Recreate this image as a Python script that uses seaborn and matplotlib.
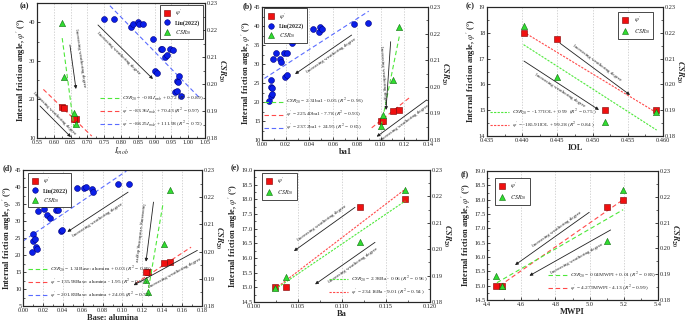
import matplotlib
matplotlib.use('Agg')
import matplotlib.pyplot as plt
from matplotlib.lines import Line2D
from matplotlib.ticker import MultipleLocator, AutoMinorLocator, FormatStrFormatter
import numpy as np
import seaborn as sns

sns.set_style('ticks')
plt.rcParams['font.family'] = ['Liberation Serif', 'DejaVu Serif']
plt.rcParams['mathtext.fontset'] = 'stix'
plt.rcParams['axes.linewidth'] = 0.8

RED, RED_E = '#f01010', '#800000'
BLUE, BLUE_E = '#0a1ee8', '#000080'
GREEN, GREEN_E = '#30dd30', '#107010'
L_RED, L_GREEN, L_BLUE = '#ff4a4a', '#4ee83a', '#5a6cff'

# four samples of this study
phi = [18.0, 17.75, 15.0, 15.0]
csr = [0.2225, 0.2027, 0.1853, 0.1894]
i_mob = [0.623, 0.631, 0.665, 0.659]
ba1 = [0.1155, 0.1105, 0.1004, 0.1018]
iol = [0.4402, 0.4450, 0.4518, 0.4590]
alumina = [0.1483, 0.1420, 0.1257, 0.1237]
ba = [0.1172, 0.1121, 0.1024, 0.1036]
mwpi = [5.196, 5.099, 4.487, 4.454]

# Liu (2022)
liu_imob = [0.748, 0.778, 0.830, 0.835, 0.850, 0.855, 0.864, 0.894, 0.901, 0.906, 0.918,
            0.922, 0.931, 0.936, 0.946, 0.956, 0.961, 0.966, 0.971, 0.966, 0.974, 0.978]
liu_phi_a = [40.9, 40.9, 38.7, 39.5, 40.0, 39.5, 39.5, 35.7, 27.3, 26.9, 33.1,
             33.2, 30.9, 31.5, 33.2, 32.8, 21.9, 24.7, 24.5, 22.3, 26.1, 20.9]
liu_ba1 = [0.0059, 0.0076, 0.0082, 0.0079, 0.0084, 0.0073, 0.0090, 0.0121, 0.0155, 0.0160, 0.0188,
           0.0194, 0.0214, 0.0211, 0.0253, 0.0335, 0.0433, 0.0480, 0.0490, 0.0510, 0.0780, 0.0897]
liu_phi_b = [20.3, 21.7, 22.0, 24.0, 23.7, 25.8, 31.2, 32.8, 31.4, 30.5, 33.0,
             26.7, 32.8, 27.0, 35.4, 39.1, 39.1, 38.3, 39.8, 39.1, 40.5, 40.9]
liu_alumina = [0.0090, 0.0100, 0.0103, 0.0123, 0.0127, 0.0143, 0.0150, 0.0207, 0.0240, 0.0270, 0.0330,
               0.0347, 0.0380, 0.0390, 0.0413, 0.0547, 0.0613, 0.0633, 0.0697, 0.0700, 0.0957, 0.1067]
liu_phi_d = [21.0, 26.1, 24.2, 24.6, 22.4, 21.9, 32.8, 33.4, 31.7, 31.0, 33.2,
             33.2, 27.0, 27.5, 35.6, 39.6, 39.6, 40.1, 39.4, 38.6, 40.8, 41.0]

# fitted lines, end points
fit_a_x, fit_a_csr = [0.625, 0.660], [0.2170, 0.1840]
fit_a_px, fit_a_phi = [0.569, 0.713], [22.6, 10.5]
fit_a_lx, fit_a_liu = [0.767, 1.035], [44.3, 20.3]
fit_b_x, fit_b_csr = [0.1005, 0.1160], [0.1853, 0.2194]
fit_b_px, fit_b_phi = [0.0925, 0.1250], [13.2, 21.3]
fit_b_lx, fit_b_liu = [0.002, 0.090], [26.2, 43.9]
fit_c_x, fit_c_csr = [0.4402, 0.4591], [0.2154, 0.1823]
fit_c_px, fit_c_phi = [0.4402, 0.4591], [18.03, 14.90]
fit_d_x, fit_d_csr = [0.1263, 0.1407], [0.1866, 0.2174]
fit_d_px, fit_d_phi = [0.113, 0.169], [11.6, 22.3]
fit_d_lx, fit_d_liu = [0.0, 0.104], [24.1, 44.7]
fit_e_x, fit_e_csr = [0.1024, 0.1172], [0.1848, 0.2183]
fit_e_px, fit_e_phi = [0.1024, 0.1172], [14.95, 18.35]
fit_f_x, fit_f_csr = [4.458, 5.196], [0.1867, 0.2150]
fit_f_px, fit_f_phi = [4.475, 5.196], [15.0, 18.0]

eq_a = [r"$CSR_{20}$ = -0.81$I_{mob}$ + 0.72 ($R^2$ = 0.89)",
        r"$\varphi'$ = -83.36$I_{mob}$ + 70.43 ($R^2$ = 0.97)",
        r"$\varphi'$ = -88.25$I_{mob}$ + 111.98 ($R^2$ = 0.72)"]
eq_b = [r"$CSR_{20}$ = 2.31ba1 - 0.05 ($R^2$ = 0.93)",
        r"$\varphi'$ = 225.40ba1 - 7.78 ($R^2$ = 0.93)",
        r"$\varphi'$ = 237.2ba1 + 24.95 ($R^2$ = 0.65)"]
eq_c = [r"$CSR_{20}$ = -1.77IOL + 0.99  ($R^2$ = 0.75 )",
        r"$\varphi'$ = -185.91IOL + 99.28 ($R^2$ = 0.84 )"]
eq_d = [r"$CSR_{20}$ = 1.31Base: alumina + 0.03 ($R^2$ = 0.89)",
        r"$\varphi'$ = 135.98Base: alumina - 1.95 ($R^2$ = 0.97)",
        r"$\varphi'$ = 201.83Base: alumina + 24.05 ($R^2$ = 0.72)"]
eq_e = [r"$CSR_{20}$ = 2.38Ba - 0.06 ($R^2$ = 0.96 )",
        r"$\varphi'$ = 234.16Ba - 9.01 ($R^2$ = 0.94 )"]
eq_f = [r"$CSR_{20}$ = 0.04MWPI + 0.01 ($R^2$ = 0.83)",
        r"$\varphi'$ = 4.275MWPI - 4.13 ($R^2$ = 0.99)"]

ARROW_TXT = 'Increasing weathering degree'
TICK_FS = 4.6
LABEL_FS = 6.0

fig = plt.figure(figsize=(6.85, 3.21), dpi=100)


def px_rect(x0, x1, y0, y1):
    return [x0 / 685, 1 - y1 / 321, (x1 - x0) / 685, (y1 - y0) / 321]


def draw_panel(rect, x, xlim, xstep, xfmt, ylim, ystep, yfmt, xlabel, fits, eqs,
               ls, liu=None, leg_anchor=None, leg_loc='upper left', eq_anchor=None,
               eq_loc='lower left', arrows=(), ymajor_label=None):
    ax = fig.add_axes(rect)
    ax2 = ax.twinx()
    # fit lines
    for xs, ys, col, twin in fits:
        sns.lineplot(x=xs, y=ys, ax=ax2 if twin else ax, color=col, lw=0.8,
                     linestyle=ls, legend=False)
    if liu is not None:
        sns.scatterplot(x=liu[0], y=liu[1], ax=ax, marker='o', s=18, color=BLUE,
                        edgecolor=BLUE_E, linewidth=0.4, zorder=3, legend=False)
    sns.scatterplot(x=x, y=phi, ax=ax, marker='s', s=17, color=RED,
                    edgecolor=RED_E, linewidth=0.4, zorder=3, legend=False)
    sns.scatterplot(x=x, y=csr, ax=ax2, marker='^', s=20, color=GREEN,
                    edgecolor=GREEN_E, linewidth=0.4, zorder=3, legend=False)

    ax.set_xlim(*xlim)
    ax.set_ylim(*ylim)
    ax2.set_ylim(0.18, 0.23)
    ax.xaxis.set_major_locator(MultipleLocator(xstep))
    ax.xaxis.set_major_formatter(FormatStrFormatter(xfmt))
    ax.yaxis.set_major_locator(MultipleLocator(ymajor_label or ystep))
    ax.yaxis.set_minor_locator(MultipleLocator(ystep / 2 if ymajor_label is None else ystep))
    ax.yaxis.set_major_formatter(FormatStrFormatter(yfmt))
    ax.xaxis.set_minor_locator(AutoMinorLocator(2))
    ax2.yaxis.set_major_locator(MultipleLocator(0.01))
    ax2.yaxis.set_minor_locator(MultipleLocator(0.005))
    ax2.yaxis.set_major_formatter(FormatStrFormatter('%.2f'))
    ax.xaxis.grid(True, linestyle=(0, (2, 2)), color='#c4c4c4', lw=0.5)
    for a in (ax, ax2):
        a.tick_params(which='major', direction='in', labelsize=TICK_FS, length=2.2,
                      width=0.6, pad=1.2)
        a.tick_params(which='minor', direction='in', length=1.2, width=0.5)
    ax.set_xlabel(xlabel, fontsize=LABEL_FS, fontweight='bold', labelpad=0.8)
    ax.set_ylabel("Internal friction angle, $\\varphi'$ (°)", fontsize=LABEL_FS,
                  fontweight='bold', labelpad=0.8)
    ax2.set_ylabel(r"$\mathbfit{CSR}_{\mathbf{20}}$", fontsize=LABEL_FS, rotation=270,
                   labelpad=7)

    # arrows and their captions
    for (x0, y0), (x1, y1), (tx, ty), rot in arrows:
        ax2.annotate('', xy=(x1, y1), xytext=(x0, y0), xycoords='axes fraction',
                     arrowprops=dict(arrowstyle='-|>', color='#202020', lw=0.6,
                                     mutation_scale=4.5, shrinkA=0, shrinkB=0))
        ax2.text(tx, ty, ARROW_TXT, transform=ax2.transAxes, rotation=rot,
                 rotation_mode='anchor', ha='center', va='center', fontsize=3.6,
                 color='#202020')

    # point legend
    handles = [Line2D([0], [0], marker='s', ls='none', color=RED, mec=RED_E, mew=0.4, ms=3.8)]
    labels = [r"$\varphi'$"]
    if liu is not None:
        handles.append(Line2D([0], [0], marker='o', ls='none', color=BLUE, mec=BLUE_E,
                              mew=0.4, ms=4.0))
        labels.append('Liu(2022)')
    handles.append(Line2D([0], [0], marker='^', ls='none', color=GREEN, mec=GREEN_E,
                          mew=0.4, ms=4.2))
    labels.append(r"$CSR_{20}$")
    leg = ax2.legend(handles, labels, loc=leg_loc, bbox_to_anchor=leg_anchor,
                     fontsize=4.3, frameon=True, fancybox=False, edgecolor='k',
                     framealpha=1, borderpad=0.45, labelspacing=0.3,
                     handletextpad=0.7, handlelength=1.4, borderaxespad=0)
    leg.get_frame().set_linewidth(0.5)
    for t in leg.get_texts():
        t.set_fontweight('bold')
    ax2.add_artist(leg)

    # equation legend
    eh = [Line2D([0], [0], color=c, lw=0.8, ls=ls) for _, _, c, _ in fits]
    ax2.legend(eh, eqs, loc=eq_loc, bbox_to_anchor=eq_anchor, fontsize=3.9,
               frameon=False, handlelength=3.6, handletextpad=0.5,
               labelspacing=0.45, borderaxespad=0, borderpad=0)
    return ax, ax2


DASH = (0, (4, 2.5))
DOT = (0, (2, 1.2))

# (a)
draw_panel(px_rect(37, 205, 3, 138), i_mob, (0.55, 1.05), 0.05, '%.2f', (10, 45), 5, '%d',
           r"$I_{mob}$",
           [(fit_a_x, fit_a_csr, L_GREEN, True), (fit_a_px, fit_a_phi, L_RED, False),
            (fit_a_lx, fit_a_liu, L_BLUE, False)], eq_a, DASH,
           liu=(liu_imob, liu_phi_a), leg_loc='upper right', leg_anchor=(0.988, 0.985),
           eq_loc='lower right', eq_anchor=(0.99, 0.06),
           arrows=[((0.363, 0.837), (0.690, 0.437), (0.484, 0.627), -44.5),
                   ((0.196, 0.689), (0.232, 0.363), (0.255, 0.593), -82),
                   ((0.018, 0.237), (0.202, 0.007), (0.104, 0.181), -45)],
           ymajor_label=10)

# (b)
draw_panel(px_rect(262, 428, 7, 140), ba1, (0.0, 0.14), 0.02, '%.2f', (10, 45), 5, '%d',
           'ba1',
           [(fit_b_x, fit_b_csr, L_GREEN, True), (fit_b_px, fit_b_phi, L_RED, False),
            (fit_b_lx, fit_b_liu, L_BLUE, False)], eq_b, DASH,
           liu=(liu_ba1, liu_phi_b), leg_anchor=(0.01, 0.99),
           eq_anchor=(0.01, 0.05),
           arrows=[((0.540, 0.789), (0.199, 0.496), (0.42, 0.634), 34.5),
                   ((0.775, 0.739), (0.747, 0.226), (0.732, 0.489), -86),
                   ((0.992, 0.301), (0.691, 0.025), (0.861, 0.125), 36.3)])

# (c)
draw_panel(px_rect(487, 663, 7, 136), iol, (0.435, 0.460), 0.005, '%.3f', (14, 19), 1, '%d',
           'IOL',
           [(fit_c_x, fit_c_csr, L_GREEN, True), (fit_c_px, fit_c_phi, L_RED, False)],
           eq_c, DOT, leg_loc='upper right', leg_anchor=(0.943, 0.961),
           eq_anchor=(0.017, 0.04),
           arrows=[((0.415, 0.719), (0.8125, 0.318), (0.623, 0.564), -36.4),
                   ((0.210, 0.581), (0.636, 0.202), (0.415, 0.357), -33)])

# (d)
draw_panel(px_rect(23, 202, 170, 306), alumina, (0.0, 0.18), 0.02, '%.2f', (5, 45), 5, '%d',
           'Base: alumina',
           [(fit_d_x, fit_d_csr, L_GREEN, True), (fit_d_px, fit_d_phi, L_RED, False),
            (fit_d_lx, fit_d_liu, L_BLUE, False)], eq_d, DASH,
           liu=(liu_alumina, liu_phi_d), leg_anchor=(0.028, 0.978),
           eq_anchor=(0.028, 0.04),
           arrows=[((0.587, 0.837), (0.248, 0.545), (0.415, 0.635), 33.3),
                   ((0.729, 0.764), (0.687, 0.326), (0.652, 0.538), -97),
                   ((0.974, 0.409), (0.618, 0.153), (0.85, 0.241), 28.7)])

# (e)
draw_panel(px_rect(254, 430, 170, 302), ba, (0.100, 0.120), 0.005, '%.3f', (14.5, 19.0), 0.5,
           '%.1f', 'Ba',
           [(fit_e_x, fit_e_csr, L_GREEN, True), (fit_e_px, fit_e_phi, L_RED, False)],
           eq_e, DOT, leg_anchor=(0.045, 0.977),
           eq_loc='lower right', eq_anchor=(0.99, 0.03),
           arrows=[((0.574, 0.717), (0.227, 0.386), (0.385, 0.596), 35.6),
                   ((0.6875, 0.452), (0.347, 0.134), (0.564, 0.280), 35)])

# (f)
draw_panel(px_rect(487, 658, 171, 300), mwpi, (4.4, 5.4), 0.2, '%.1f', (14.5, 19.0), 0.5,
           '%.1f', 'MWPI',
           [(fit_f_x, fit_f_csr, L_GREEN, True), (fit_f_px, fit_f_phi, L_RED, False)],
           eq_f, DASH, leg_anchor=(0.047, 0.946),
           eq_loc='lower right', eq_anchor=(0.99, 0.05),
           arrows=[((0.598, 0.680), (0.164, 0.271), (0.407, 0.55), 35.3),
                   ((0.723, 0.543), (0.248, 0.188), (0.525, 0.323), 29.3)])

for tag, (tx, ty) in zip('abcdef', [(24, 6), (248, 6), (470, 6), (8, 168), (235, 168), (465, 174)]):
    fig.text(tx / 685, 1 - ty / 321, f'({tag})', fontsize=5.8, fontweight='bold',
             ha='center', va='center')

fig.savefig('out.png', dpi=100)
